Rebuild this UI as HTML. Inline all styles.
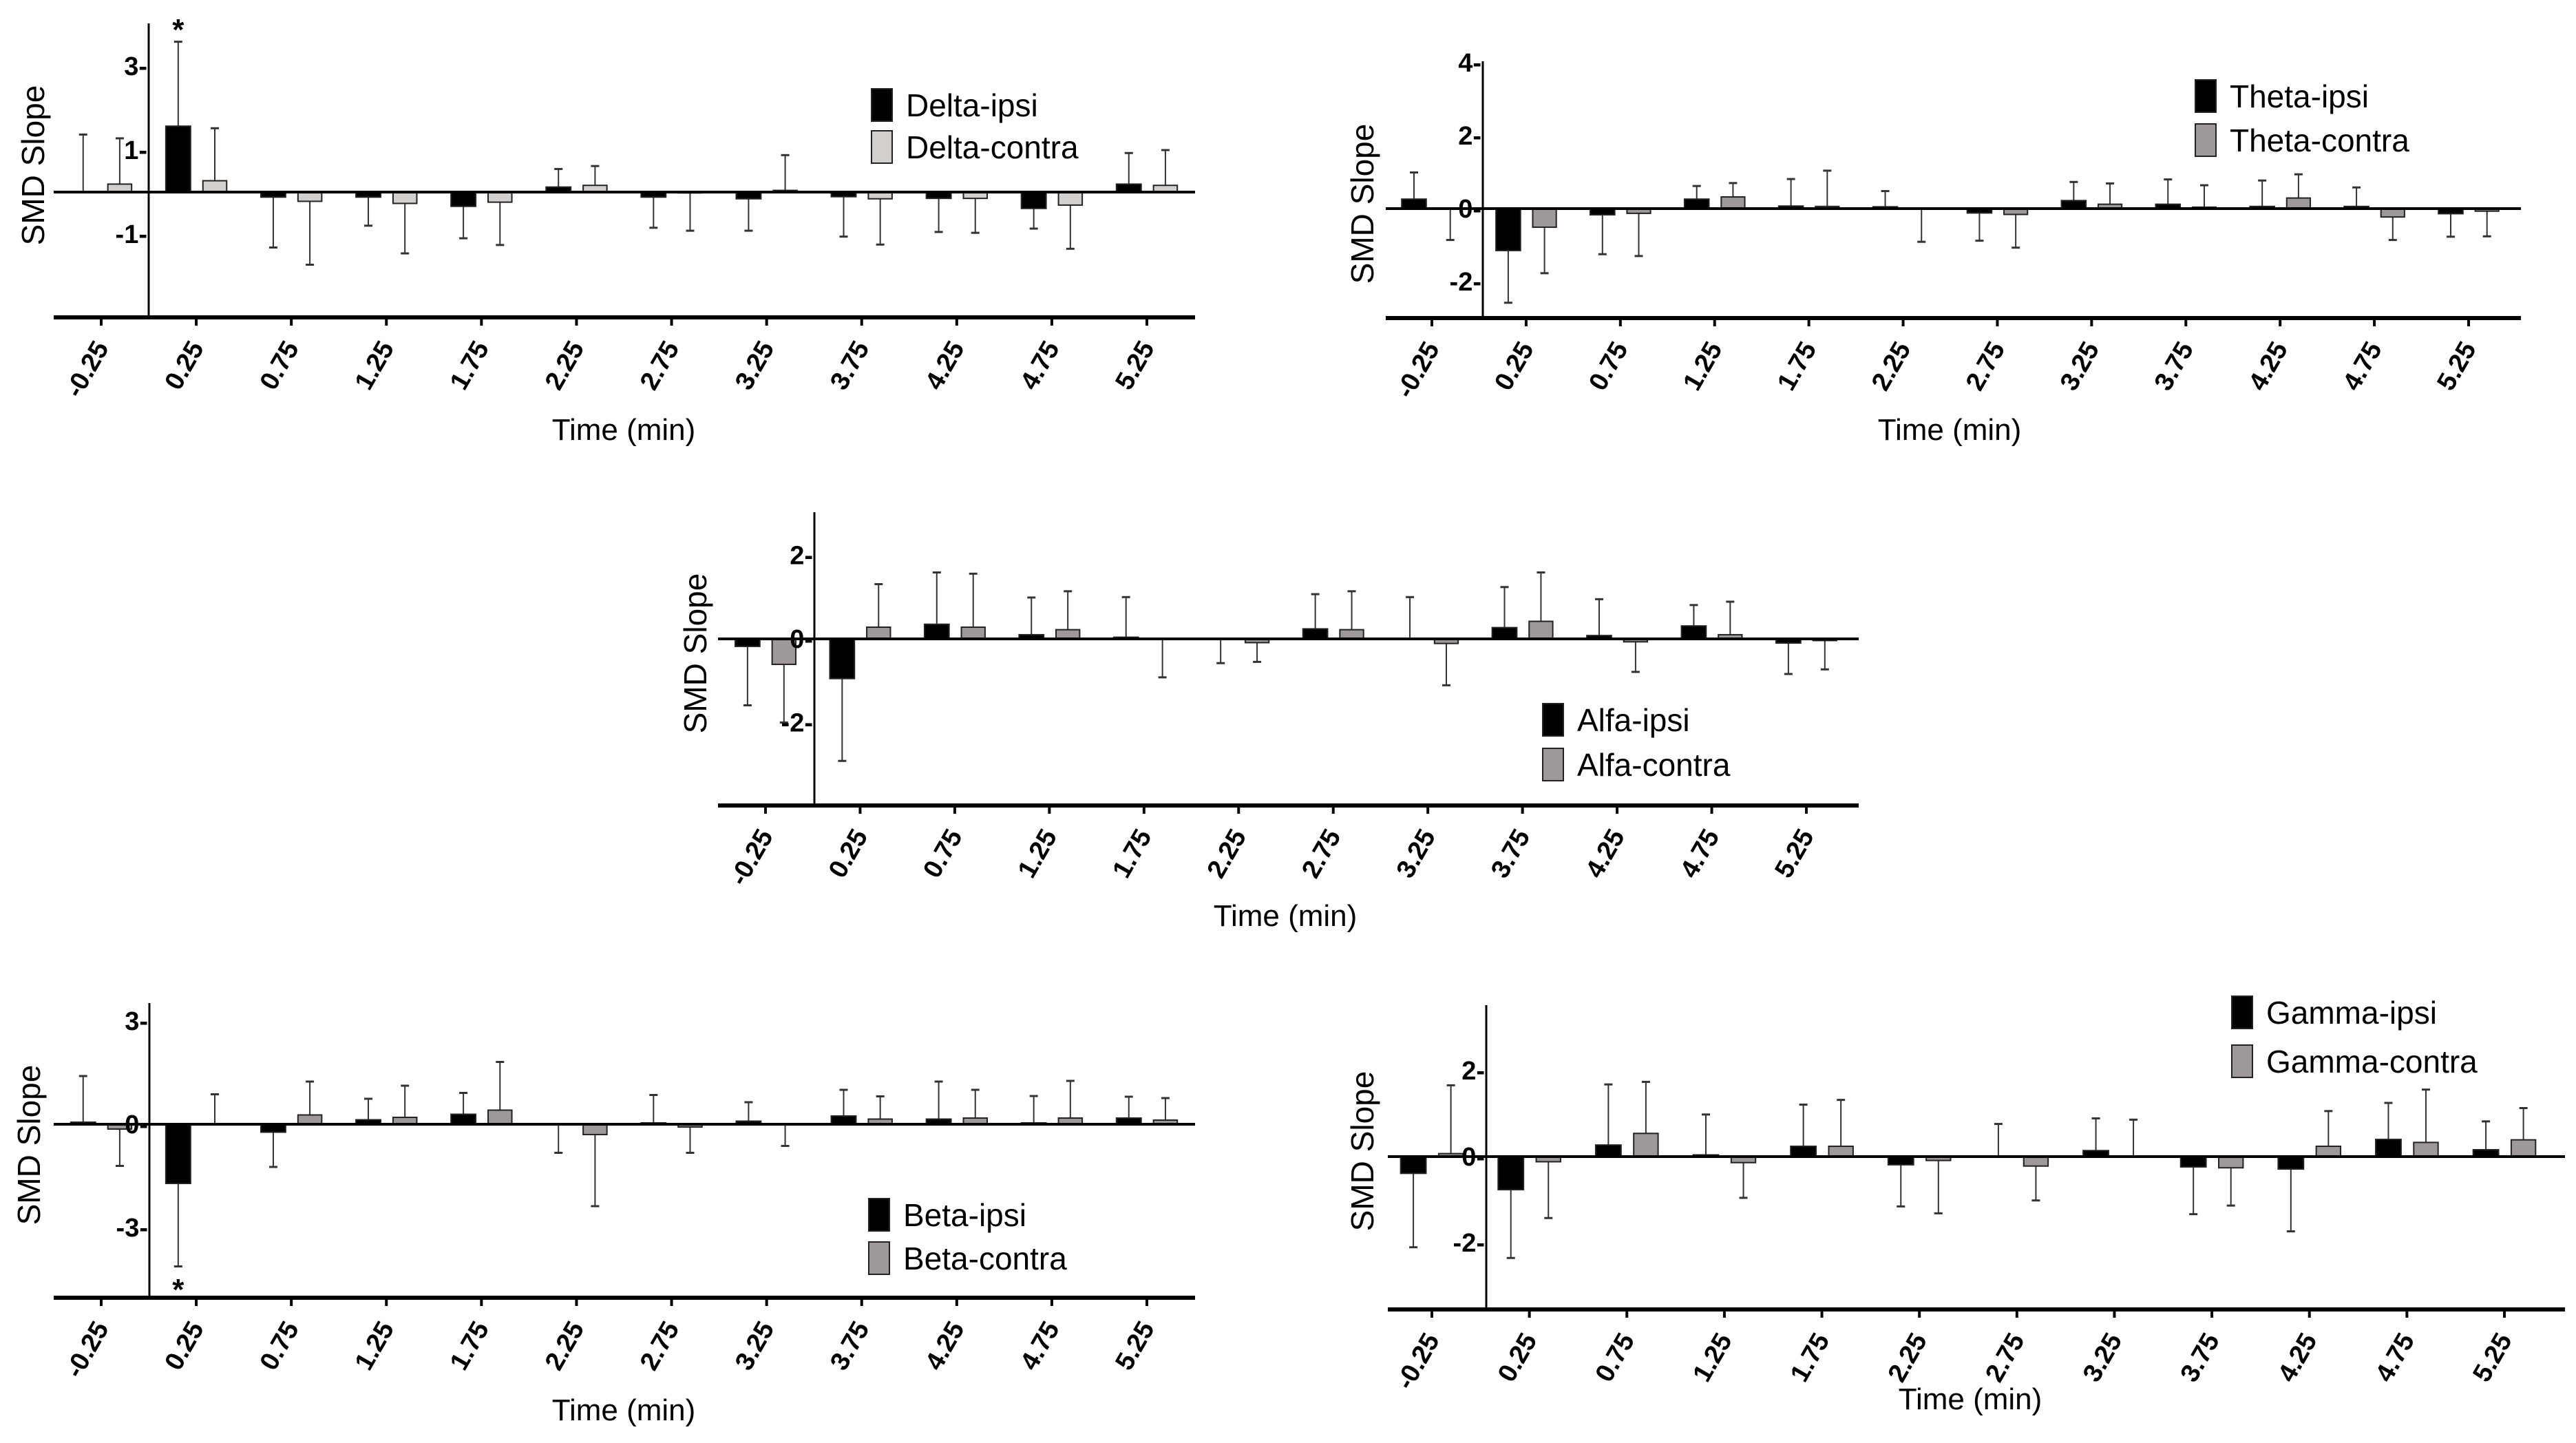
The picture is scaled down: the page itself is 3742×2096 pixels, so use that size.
<!DOCTYPE html>
<html><head><meta charset="utf-8"><style>
html,body{margin:0;padding:0;background:#fff;}
svg{display:block;}
text{font-family:"Liberation Sans",Arial,sans-serif;}
</style></head><body>
<svg id="fig" width="3742" height="2096" viewBox="0 0 3742 2096" xmlns="http://www.w3.org/2000/svg"></svg>
<script>
const categories = ["-0.25","0.25","0.75","1.25","1.75","2.25","2.75","3.25","3.75","4.25","4.75","5.25"];
// Delta
const deltaIpsi = [0.0,1.57,-0.12,-0.12,-0.34,0.12,-0.12,-0.16,-0.11,-0.15,-0.39,0.19];
const deltaIpsiErr = [1.37,3.58,-1.32,-0.8,-1.1,0.55,-0.85,-0.92,-1.06,-0.95,-0.87,0.93];
const deltaContra = [0.19,0.27,-0.22,-0.27,-0.24,0.16,-0.02,0.04,-0.16,-0.15,-0.31,0.16];
const deltaContraErr = [1.28,1.52,-1.73,-1.46,-1.26,0.62,-0.92,0.88,-1.25,-0.97,-1.35,1.0];
const deltaTicks = [3,1,-1];
// Theta
const thetaIpsi = [0.26,-1.15,-0.17,0.26,0.07,0.05,-0.12,0.22,0.12,0.06,0.06,-0.14];
const thetaIpsiErr = [0.99,-2.58,-1.25,0.62,0.81,0.48,-0.88,0.73,0.8,0.77,0.58,-0.77];
const thetaContra = [-0.01,-0.51,-0.13,0.32,0.06,0.0,-0.16,0.12,0.04,0.29,-0.23,-0.07];
const thetaContraErr = [-0.86,-1.77,-1.3,0.7,1.04,-0.91,-1.07,0.69,0.64,0.94,-0.86,-0.76];
const thetaTicks = [4,2,0,-2];
// Alfa
const alfaIpsi = [-0.18,-0.95,0.35,0.1,0.04,0.0,0.24,0.0,0.27,0.08,0.31,-0.1];
const alfaIpsiErr = [-1.59,-2.92,1.59,0.99,1.0,-0.58,1.07,1.0,1.24,0.95,0.81,-0.84];
const alfaContra = [-0.61,0.28,0.28,0.22,0.0,-0.09,0.22,-0.11,0.42,-0.07,0.1,-0.04];
const alfaContraErr = [-2.0,1.31,1.56,1.14,-0.92,-0.55,1.14,-1.11,1.59,-0.79,0.89,-0.73];
const alfaTicks = [2,0,-2];
// Beta
const betaIpsi = [0.06,-1.72,-0.23,0.13,0.29,0.0,0.04,0.09,0.24,0.15,0.04,0.18];
const betaIpsiErr = [1.4,-4.13,-1.24,0.74,0.91,-0.83,0.85,0.64,1.0,1.24,0.82,0.8];
const betaContra = [-0.14,0.0,0.27,0.2,0.41,-0.3,-0.08,0.0,0.15,0.18,0.18,0.12];
const betaContraErr = [-1.21,0.87,1.24,1.12,1.81,-2.38,-0.83,-0.63,0.81,1.0,1.26,0.76];
const betaTicks = [3,0,-3];
// Gamma
const gammaIpsi = [-0.39,-0.77,0.27,0.04,0.24,-0.19,0.0,0.14,-0.24,-0.29,0.4,0.16];
const gammaIpsiErr = [-2.11,-2.36,1.68,0.98,1.21,-1.16,0.76,0.89,-1.34,-1.74,1.25,0.82];
const gammaContra = [0.07,-0.12,0.54,-0.14,0.24,-0.09,-0.22,0.0,-0.26,0.24,0.33,0.39];
const gammaContraErr = [1.66,-1.43,1.74,-0.96,1.32,-1.32,-1.02,0.86,-1.14,1.06,1.56,1.13];
const gammaTicks = [2,0,-2];

const NS="http://www.w3.org/2000/svg";
const svg=document.getElementById('fig');
function mk(tag,attrs,parent){const e=document.createElementNS(NS,tag);for(const k in attrs)e.setAttribute(k,attrs[k]);(parent||svg).appendChild(e);return e;}

function panel(cfg){
  const g=mk('g',{});
  
  
  const sp=(cfg.x1-cfg.x0)/(categories.length-1);
  const xs=i=>cfg.x0+i*sp;
  const ys=v=>cfg.zeroY-v*cfg.unit;
  function series(vals,errs,off0,off1,fill,label){
    vals.forEach((v,i)=>{
      const xa=xs(i)+off0*sp, xb=xs(i)+off1*sp, cx=(xa+xb)/2;
      const e=errs[i];
      const eb=mk('line',{x1:cx,x2:cx,y1:ys(v),y2:ys(e),stroke:'#333','stroke-width':2},g);
      
      
      const cap=mk('line',{x1:cx-6,x2:cx+6,y1:ys(e),y2:ys(e),stroke:'#333','stroke-width':3},g);
      
      
      const top=Math.min(ys(v),ys(0)), h=Math.abs(ys(v)-ys(0));
      const r=mk('rect',{x:xa,y:top,width:xb-xa,height:Math.max(h,1),fill:fill,stroke:'#222','stroke-width':2},g);
      
      
    });
  }
  series(cfg.ipsi,cfg.ipsiErr,-0.32,-0.06,'#000','ipsi');
  series(cfg.contra,cfg.contraErr,0.07,0.32,cfg.gray,'contra');
  const zl=mk('line',{x1:cfg.ax0,x2:cfg.ax1,y1:cfg.zeroY,y2:cfg.zeroY,stroke:'#000','stroke-width':4},g);
  
  
  const ya=mk('line',{x1:cfg.yAxisX,x2:cfg.yAxisX,y1:cfg.top,y2:cfg.bottom,stroke:'#000','stroke-width':3},g);
  
  
  cfg.ticks.forEach(t=>{
    const tl=mk('text',{x:cfg.yAxisX-2,y:ys(t)+13,'text-anchor':'end','font-size':38,'font-weight':'bold'},g);
    tl.textContent=t+'-';
    
    
  });
  const xa=mk('line',{x1:cfg.ax0,x2:cfg.ax1,y1:cfg.bottom,y2:cfg.bottom,stroke:'#000','stroke-width':6},g);
  
  
  categories.forEach((c,i)=>{
    const tk=mk('line',{x1:xs(i),x2:xs(i),y1:cfg.bottom,y2:cfg.bottom+12,stroke:'#000','stroke-width':4},g);
    
    
    const tx=xs(i)+12, ty=cfg.bottom+44;
    const lb=mk('text',{x:tx,y:ty,'text-anchor':'end','font-size':38,'font-weight':'bold',transform:`rotate(-60 ${tx} ${ty})`},g);
    lb.textContent=c;
    
    
  });
  const yt=mk('text',{x:cfg.ytX,y:cfg.ytY,'text-anchor':'middle','font-size':46,transform:`rotate(-90 ${cfg.ytX} ${cfg.ytY})`},g);
  yt.textContent='SMD Slope';
  
  
  const xt=mk('text',{x:cfg.xtX,y:cfg.xtY,'text-anchor':'middle','font-size':44},g);
  xt.textContent='Time (min)';
  
  
  [[cfg.legY1,'#000',cfg.name+'-ipsi'],[cfg.legY2,cfg.gray,cfg.name+'-contra']].forEach(([ly,f,t])=>{
    const b=mk('rect',{x:cfg.legX,y:ly,width:30,height:47,fill:f,stroke:'#222','stroke-width':2},g);
    
    
    const tt=mk('text',{x:cfg.legX+50,y:ly+40,'font-size':46},g);
    tt.textContent=t;
    
    
  });
  if(cfg.star){
    const s=mk('text',{x:xs(1)-0.19*sp,y:cfg.star,'text-anchor':'middle','font-size':44,'font-weight':'bold'},g);
    s.textContent='*';
    
    
  }
}

panel({name:'Delta',ipsi:deltaIpsi,ipsiErr:deltaIpsiErr,contra:deltaContra,contraErr:deltaContraErr,ticks:deltaTicks,gray:'#d2cfcc',
  x0:147,x1:1666,zeroY:279,unit:61,top:34,bottom:461,yAxisX:216,ax0:78,ax1:1736,ytX:64,ytY:240,xtX:906,xtY:639,legX:1266,legY1:129,legY2:190,star:58});
panel({name:'Theta',ipsi:thetaIpsi,ipsiErr:thetaIpsiErr,contra:thetaContra,contraErr:thetaContraErr,ticks:thetaTicks,gray:'#9e9898',
  x0:2080,x1:3586,zeroY:303,unit:53,top:89,bottom:462,yAxisX:2154,ax0:2013,ax1:3662,ytX:1995,ytY:296,xtX:2832,xtY:639,legX:3189,legY1:116,legY2:180});
panel({name:'Alfa',ipsi:alfaIpsi,ipsiErr:alfaIpsiErr,contra:alfaContra,contraErr:alfaContraErr,ticks:alfaTicks,gray:'#9e9898',
  x0:1112,x1:2624,zeroY:928,unit:60.7,top:744,bottom:1170,yAxisX:1183,ax0:1043,ax1:2700,ytX:1026,ytY:949,xtX:1867,xtY:1345,legX:2241,legY1:1022,legY2:1087});
panel({name:'Beta',ipsi:betaIpsi,ipsiErr:betaIpsiErr,contra:betaContra,contraErr:betaContraErr,ticks:betaTicks,gray:'#9e9898',
  x0:147,x1:1666,zeroY:1633,unit:50,top:1457,bottom:1885,yAxisX:217,ax0:78,ax1:1736,ytX:58,ytY:1663,xtX:906,xtY:2063,legX:1262,legY1:1741,legY2:1804,star:1888});
panel({name:'Gamma',ipsi:gammaIpsi,ipsiErr:gammaIpsiErr,contra:gammaContra,contraErr:gammaContraErr,ticks:gammaTicks,gray:'#9e9898',
  x0:2080,x1:3638,zeroY:1680,unit:62.4,top:1460,bottom:1902,yAxisX:2159,ax0:2016,ax1:3726,ytX:1995,ytY:1672,xtX:2862,xtY:2047,legX:3242,legY1:1447,legY2:1518});
</script>
</body></html>
